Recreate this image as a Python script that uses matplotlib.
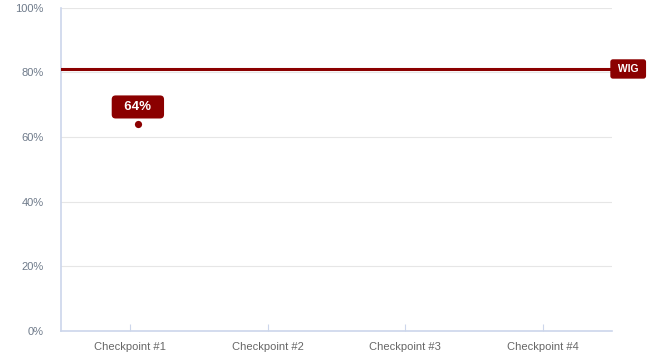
import matplotlib.pyplot as plt
import matplotlib.transforms as mtransforms

# checkpoint scores and the target line
checkpoints = ['Checkpoint #1', 'Checkpoint #2', 'Checkpoint #3', 'Checkpoint #4']
scores = [64]
wig_target = 81
y_ticks = [0, 20, 40, 60, 80, 100]

dark_red = '#8b0000'
axis_col = '#ccd6eb'
label_col = '#666666'

plt.rcParams['font.family'] = ['Liberation Sans', 'DejaVu Sans']

fig = plt.figure(figsize=(6.5, 3.53), dpi=100)
ax = fig.add_axes([61 / 650, 22 / 353, 551 / 650, 323.5 / 353])

ax.set_xlim(-0.5, len(checkpoints) - 0.5)
ax.set_ylim(0, 100)
ax.set_yticks(y_ticks)
ax.set_yticklabels([f'{v}%' for v in y_ticks])
ax.set_xticks(range(len(checkpoints)))
ax.set_xticklabels(checkpoints)
ax.grid(axis='y', color='#e6e6e6', lw=0.8)
ax.set_axisbelow(True)

for side in ['top', 'right']:
    ax.spines[side].set_visible(False)
for side in ['left', 'bottom']:
    ax.spines[side].set_color(axis_col)
    ax.spines[side].set_linewidth(1.2)

ax.tick_params(axis='x', direction='in', length=5, color=axis_col,
               labelsize=8, labelcolor=label_col, pad=8)
ax.tick_params(axis='y', length=0, labelsize=8, labelcolor='#6e7a8a', pad=12.5)

# target line with its tag on the right edge
ax.axhline(wig_target, color=dark_red, lw=2.2, zorder=3)
blend = mtransforms.blended_transform_factory(ax.transAxes, ax.transData)
ax.annotate(' WIG ', xy=(1.0, wig_target), xycoords=blend,
            xytext=(3, 0), textcoords='offset pixels',
            ha='left', va='center', color='white', fontsize=7.5, fontweight='bold',
            annotation_clip=False, zorder=5,
            bbox=dict(boxstyle='round,pad=0.45,rounding_size=0.25', fc=dark_red, ec='none'))

# score points, nudged slightly right of the tick like the series column
shift = mtransforms.ScaledTranslation(8 / 100, 0, fig.dpi_scale_trans)
xs = list(range(len(scores)))
ax.scatter(xs, scores, s=45, color=dark_red, edgecolor='white', linewidth=1.5,
           zorder=6, transform=ax.transData + shift)
for x, v in zip(xs, scores):
    ax.annotate(f'  {v}%  ', xy=(x, v), xytext=(0, 17), textcoords='offset pixels',
                xycoords=ax.transData + shift,
                ha='center', va='center', color='white', fontsize=9.5, fontweight='bold',
                zorder=7,
                bbox=dict(boxstyle='round,pad=0.42,rounding_size=0.3', fc=dark_red, ec='none'))

fig.savefig('out.png', dpi=100)
